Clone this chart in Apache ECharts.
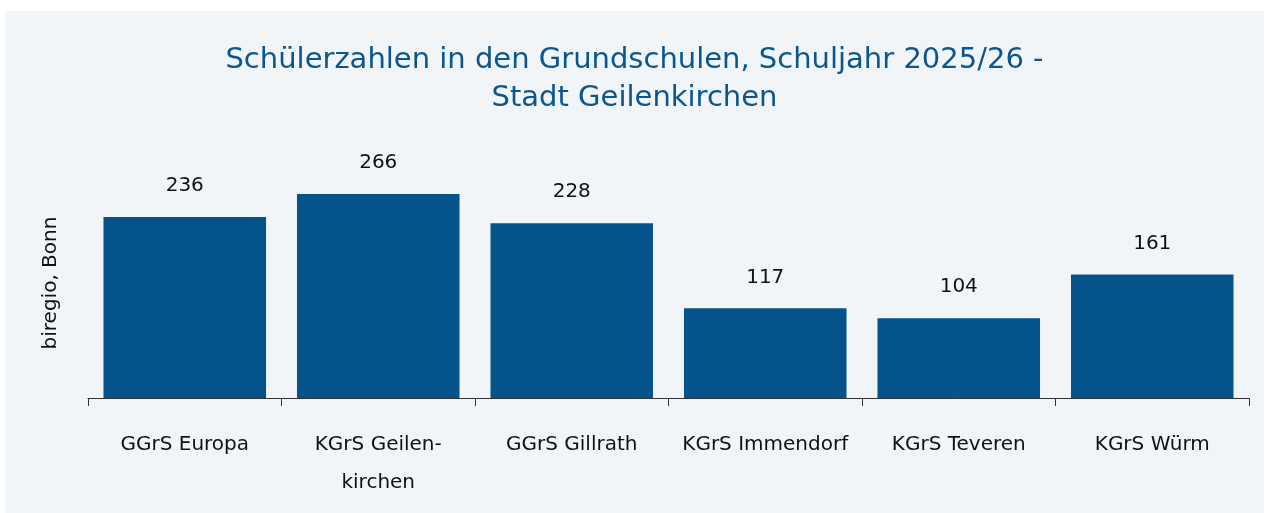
<!DOCTYPE html>
<html>
<head>
<meta charset="utf-8">
<script src="https://cdn.jsdelivr.net/npm/echarts@6/dist/echarts.min.js"></script>
<style>
  html, body { margin: 0; padding: 0; background: #ffffff; }
  #chart { position: absolute; left: 5px; top: 11px; width: 1259px; height: 502px; background: #f1f5f8; }
</style>
</head>
<body>
<div id="chart"></div>
<script>
// Daten
var schulen = ['GGrS Europa', 'KGrS Geilen-\nkirchen', 'GGrS Gillrath', 'KGrS Immendorf', 'KGrS Teveren', 'KGrS Würm'];
var schueler = [236, 266, 228, 117, 104, 161];

var chart = echarts.init(document.getElementById('chart'));
var option = {
    backgroundColor: '#f1f5f8',
    textStyle: { fontFamily: 'DejaVu Sans' },
    title: {
        text: 'Schülerzahlen in den Grundschulen, Schuljahr 2025/26 -\nStadt Geilenkirchen',
        left: 'center',
        top: 25,
        textStyle: {
            color: '#0b5690',
            fontSize: 29,
            fontWeight: 'normal',
            lineHeight: 38,
            fontFamily: 'DejaVu Sans'
        }
    },
    grid: { left: 83, right: 15, top: 157, bottom: 115 },
    xAxis: {
        type: 'category',
        data: schulen,
        axisLine: { lineStyle: { color: '#333333', width: 1 } },
        axisTick: { show: true, length: 8, lineStyle: { color: '#333333' } },
        axisLabel: {
            color: '#111111',
            fontSize: 20,
            lineHeight: 38,
            margin: 28,
            interval: 0
        }
    },
    yAxis: {
        type: 'value',
        min: 0,
        max: 300,
        name: 'biregio, Bonn',
        nameLocation: 'middle',
        nameGap: 27,
        nameTextStyle: { color: '#111111', fontSize: 20 },
        axisLine: { show: false },
        axisTick: { show: false },
        axisLabel: { show: false },
        splitLine: { show: false }
    },
    series: [{
        type: 'bar',
        data: schueler,
        barCategoryGap: '16%',
        itemStyle: { color: '#04548b' },
        label: {
            show: true,
            position: 'top',
            distance: 21,
            color: '#111111',
            fontSize: 20
        }
    }]
};
chart.setOption(option);
</script>
</body>
</html>
